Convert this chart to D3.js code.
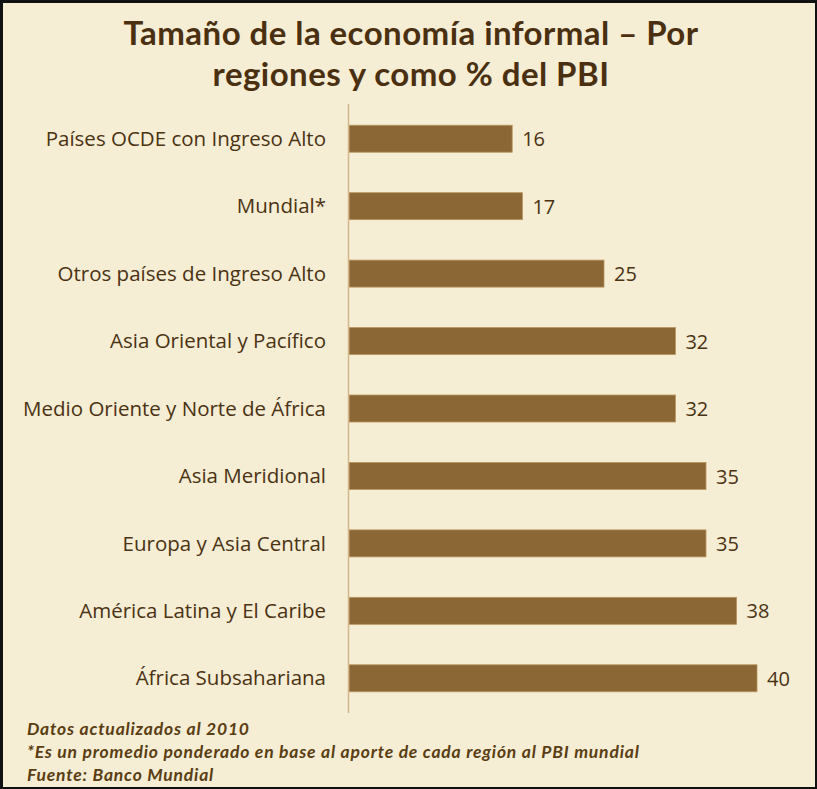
<!DOCTYPE html>
<html>
<head>
<meta charset="utf-8">
<script src="https://cdn.jsdelivr.net/npm/d3@7"></script>
<style>
  html, body { margin: 0; padding: 0; background: #000; }
  svg { display: block; }
</style>
</head>
<body>
<div id="chart"></div>
<script>
(function () {
  'use strict';

  // ── Data ──
  var regions = [
    'Países OCDE con Ingreso Alto',
    'Mundial*',
    'Otros países de Ingreso Alto',
    'Asia Oriental y Pacífico',
    'Medio Oriente y Norte de África',
    'Asia Meridional',
    'Europa y Asia Central',
    'América Latina y El Caribe',
    'África Subsahariana'
  ];
  var shares = [16, 17, 25, 32, 32, 35, 35, 38, 40];
  var titleLines = ['Tamaño de la economía informal – Por', 'regiones y como % del PBI'];
  var notes = [
    'Datos actualizados al 2010',
    '*Es un promedio ponderado en base al aporte de cada región al PBI mundial',
    'Fuente: Banco Mundial'
  ];

  // ── Constants ──
  var WIDTH = 817;
  var HEIGHT = 789;
  var BG = '#f5edd4';
  var BAR_FILL = '#8a6734';
  var BAR_EDGE = '#b8945e';
  var TEXT = '#4a3212';
  var AXIS_X = 349;
  var PLOT_TOP = 104;
  var PLOT_BOTTOM = 713;

  var svg = d3.select('#chart')
    .append('svg')
    .attr('width', WIDTH)
    .attr('height', HEIGHT);

  // frame
  svg.append('rect')
    .attr('x', 0).attr('y', 0)
    .attr('width', WIDTH).attr('height', HEIGHT)
    .attr('fill', '#111');
  svg.append('rect')
    .attr('x', 3).attr('y', 3)
    .attr('width', WIDTH - 5).attr('height', HEIGHT - 5)
    .attr('fill', BG);

  // ── Title ──
  svg.append('g').selectAll('text')
    .data(titleLines)
    .join('text')
    .attr('x', 411)
    .attr('y', function (d, i) { return 45 + i * 41; })
    .attr('text-anchor', 'middle')
    .attr('font-family', 'Lato, sans-serif')
    .attr('font-weight', 'bold')
    .attr('font-size', '33px')
    .attr('letter-spacing', '0.45px')
    .attr('fill', '#4a3010')
    .text(function (d) { return d; });

  // ── Scales ──
  var x = d3.scaleLinear().domain([0, 40]).range([AXIS_X, 757]);
  var y = d3.scaleBand()
    .domain(regions)
    .range([PLOT_TOP + 1, PLOT_BOTTOM - 1])
    .paddingInner(0.6)
    .paddingOuter(0.3);

  var data = regions.map(function (r, i) { return { name: r, value: shares[i] }; });

  // ── Bars ──
  svg.append('g').selectAll('rect')
    .data(data)
    .join('rect')
    .attr('x', x(0))
    .attr('y', function (d) { return y(d.name); })
    .attr('width', function (d) { return x(d.value) - x(0); })
    .attr('height', y.bandwidth())
    .attr('fill', BAR_FILL)
    .attr('stroke', BAR_EDGE)
    .attr('stroke-width', 0.8);

  // ── Axis line ──
  svg.append('line')
    .attr('x1', AXIS_X - 0.5).attr('x2', AXIS_X - 0.5)
    .attr('y1', PLOT_TOP).attr('y2', PLOT_BOTTOM)
    .attr('stroke', '#d2b88c')
    .attr('stroke-width', 1.5);

  // ── Category labels ──
  svg.append('g').selectAll('text')
    .data(data)
    .join('text')
    .attr('x', 326)
    .attr('y', function (d) { return y(d.name) + y.bandwidth() / 2; })
    .attr('dy', '0.35em')
    .attr('text-anchor', 'end')
    .attr('font-family', 'Open Sans, sans-serif')
    .attr('font-size', '20.5px')
    .attr('fill', TEXT)
    .text(function (d) { return d.name; });

  // ── Value labels ──
  svg.append('g').selectAll('text')
    .data(data)
    .join('text')
    .attr('x', function (d) { return x(d.value) + 10; })
    .attr('y', function (d) { return y(d.name) + y.bandwidth() / 2; })
    .attr('dy', '0.38em')
    .attr('font-family', 'Open Sans, sans-serif')
    .attr('font-size', '20px')
    .attr('fill', TEXT)
    .text(function (d) { return d.value; });

  // ── Footnotes ──
  svg.append('g').selectAll('text')
    .data(notes)
    .join('text')
    .attr('x', 27)
    .attr('y', function (d, i) { return 735 + i * 23; })
    .attr('font-family', 'Lato, sans-serif')
    .attr('font-weight', 'bold')
    .attr('font-style', 'italic')
    .attr('font-size', '17.5px')
    .attr('letter-spacing', '0.8px')
    .attr('fill', '#5a3d12')
    .text(function (d) { return d; });
})();
</script>
</body>
</html>
